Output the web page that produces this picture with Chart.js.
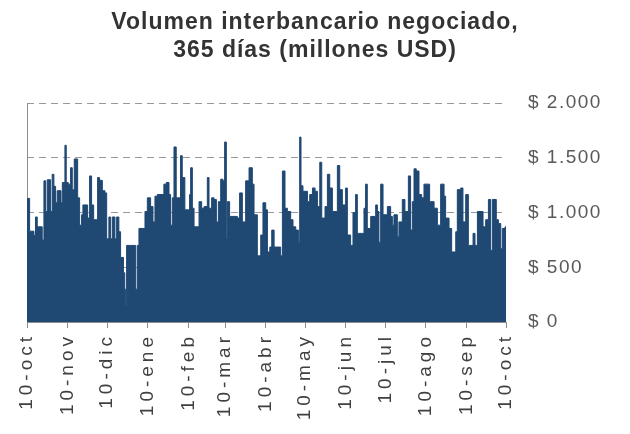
<!DOCTYPE html>
<html>
<head>
<meta charset="utf-8">
<script src="https://cdn.jsdelivr.net/npm/chart.js@4.4.1/dist/chart.umd.min.js"></script>
<style>
  html, body { margin: 0; padding: 0; background: #fff; }
  #chart { display: block; }
</style>
</head>
<body>
<canvas id="chart" width="630" height="434"></canvas>
<script>
// Day offsets from 10-oct where the daily volume changes, and the volume (millones USD) from that day on
const days = [
  0, 2, 5.3, 6.5, 7.8, 11.6, 12.9, 14.2, 15.4, 18, 19.2, 20.5, 21.8, 23, 25.9, 26.9, 28.9, 29.9, 31.4, 33.2,
  34.5, 36, 38.6, 40.1, 41.6, 42.6, 46.2, 47.7, 49.2, 50.8, 53.8, 55.3, 57.4, 59.4, 60.7, 62.4, 63.7, 65, 67, 68.3,
  70, 71.3, 73.5, 74.5, 75.2, 75.9, 82.8, 84, 85.3, 89.9, 91.7, 94.2, 96, 97.5, 99.3, 104.3, 106.1, 108.2, 109.4, 110.7,
  112, 113.7, 117, 118.3, 120.3, 123.9, 124.7, 126, 127.3, 131.1, 133.1, 134.9, 137.4, 138.7, 140.7, 142.5, 144.3, 145.8, 147.6, 149.3,
  150.6, 151.9, 152.7, 154.4, 160.3, 162, 164.1, 166.6, 169.2, 171.7, 173, 175.5, 178.1, 179.8, 181.9, 183.2, 185, 186.5, 188.3, 193.3,
  194.6, 196.6, 198.4, 200.9, 202.7, 204.8, 206.8, 207.8, 208.8, 210.3, 213.7, 215.4, 217.5, 219.5, 221.3, 223.1, 224.6, 227.1, 228.9, 230.7,
  232.7, 236.5, 238.3, 240.3, 242.4, 242.8, 244.1, 246.6, 248.4, 250.4, 251.7, 256.8, 258, 259.3, 261.9, 265.7, 267, 268.2, 269.5, 271.3,
  274.6, 277.1, 278.4, 279.6, 282.2, 283.4, 286, 288, 290.6, 292.3, 293.6, 294.9, 296.6, 298.7, 300.7, 302.5, 304, 306.8, 310.2, 312.7,
  315.2, 317.8, 319, 321.6, 323.6, 326.7, 327.9, 330.5, 332.2, 334.3, 336.3, 339.9, 341.4, 343.2, 347.5, 349.5, 351.6, 353.3, 354.6, 357.6,
  359.2, 361, 362.2, 364.3, 365
];
const volumes = [
  1130, 830, 790, 960, 870, 750, 1290, 1010, 1300, 1010, 1350, 1240, 1090, 1200, 1090, 1275, 1615, 1275, 1260, 1410,
  1210, 1490, 1135, 885, 980, 1070, 950, 1335, 1070, 935, 1320, 1295, 1200, 1180, 760, 960, 760, 960, 760, 960,
  825, 590, 450, 300, 150, 700, 300, 700, 855, 1010, 1135, 1055, 915, 1150, 1165, 1260, 1275, 1165, 885, 1135,
  1600, 1135, 1520, 1320, 1025, 1165, 1410, 1040, 870, 1100, 1040, 1055, 1320, 1040, 1135, 1120, 915, 1100, 1305, 1290,
  1645, 760, 1100, 965, 950, 1180, 915, 1290, 1410, 1260, 980, 605, 795, 1090, 1025, 640, 685, 840, 685, 605,
  1380, 1040, 1010, 935, 870, 840, 730, 1690, 1245, 1195, 1100, 1165, 1225, 1195, 1055, 1460, 950, 1055, 1350, 1225,
  1010, 1430, 1210, 1070, 1010, 1225, 795, 700, 1000, 1165, 810, 1040, 1260, 855, 965, 1070, 1010, 730, 1260, 980,
  1055, 965, 885, 980, 780, 915, 1120, 1010, 1335, 840, 1100, 1400, 1380, 1165, 1135, 1260, 1260, 1100, 1040, 885,
  1260, 1150, 950, 855, 640, 825, 1210, 1225, 915, 1165, 700, 810, 700, 1010, 870, 935, 1120, 655, 1120, 935,
  900, 670, 855, 870, 870
];

// x axis ticks: the 10th of every month
const tickDays = [0, 31, 61, 92, 123, 151, 182, 212, 243, 273, 304, 335, 365];
const tickLabels = ['10-oct', '10-nov', '10-dic', '10-ene', '10-feb', '10-mar', '10-abr', '10-may', '10-jun', '10-jul', '10-ago', '10-sep', '10-oct'];

// y axis ticks
const yTicks = [0, 500, 1000, 1500, 2000];

const FONT = "'Liberation Sans', Arial, sans-serif";

// spread the glyphs a little, like the original rendering
const spacingPlugin = {
  id: 'spacing',
  beforeDraw: chart => { chart.ctx.letterSpacing = '1px'; },
  afterDraw: chart => { chart.ctx.letterSpacing = '0px'; },
  afterUpdate: function(chart) {
    const spacing = { x: '4px', y: '1.5px' };
    Object.keys(spacing).forEach(id => {
      const scale = chart.scales[id];
      if (!scale || scale._spaced) return;
      const orig = scale.drawLabels.bind(scale);
      scale.drawLabels = function(area) {
        this.ctx.save();
        this.ctx.letterSpacing = spacing[id];
        orig(area);
        this.ctx.restore();
      };
      scale._spaced = true;
    });
  }
};

const points = days.map((d, i) => ({ x: d, y: volumes[i] }));

new Chart(document.getElementById('chart'), {
  type: 'line',
  data: {
    datasets: [{
      data: points,
      stepped: true,
      fill: 'origin',
      backgroundColor: '#1f4873',
      borderColor: '#1f4873',
      borderWidth: 1,
      pointRadius: 0
    }]
  },
  options: {
    responsive: false,
    animation: false,
    layout: { padding: 0 },
    plugins: {
      legend: { display: false },
      tooltip: { enabled: false },
      title: {
        display: true,
        text: ['Volumen interbancario negociado,', '365 días (millones USD)'],
        color: '#333333',
        font: { family: FONT, size: 23, weight: 'bold', lineHeight: 1.2 },
        padding: { top: 9, bottom: 39 }
      }
    },
    scales: {
      x: {
        type: 'linear',
        min: 0,
        max: 365,
        afterBuildTicks: scale => { scale.ticks = tickDays.map(v => ({ value: v })); },
        afterFit: scale => { scale.height = 112; },
        ticks: {
          autoSkip: false,
          minRotation: 90,
          maxRotation: 90,
          padding: 5,
          color: '#404040',
          font: { family: FONT, size: 19 },
          callback: (value, index) => tickLabels[index]
        },
        grid: { drawOnChartArea: false, drawTicks: true, tickLength: 6, color: '#8c8c8c' },
        border: { display: true, color: '#8c8c8c' }
      },
      y: {
        position: 'right',
        min: 0,
        max: 2000,
        afterBuildTicks: scale => { scale.ticks = yTicks.map(v => ({ value: v })); },
        afterFit: scale => { scale.width = 124; },
        ticks: {
          padding: 22,
          color: '#595959',
          font: { family: FONT, size: 19 },
          callback: value => '$ ' + value.toLocaleString('de-DE')
        },
        grid: { color: '#999999', drawTicks: false },
        border: { display: false, dash: [7, 5] }
      },
      yLeft: {
        position: 'left',
        min: 0,
        max: 2000,
        afterFit: scale => { scale.width = 27; },
        ticks: { display: false },
        grid: { display: false, drawTicks: false },
        border: { display: true, color: '#8c8c8c' }
      }
    }
  },
  plugins: [spacingPlugin]
});
</script>
</body>
</html>
